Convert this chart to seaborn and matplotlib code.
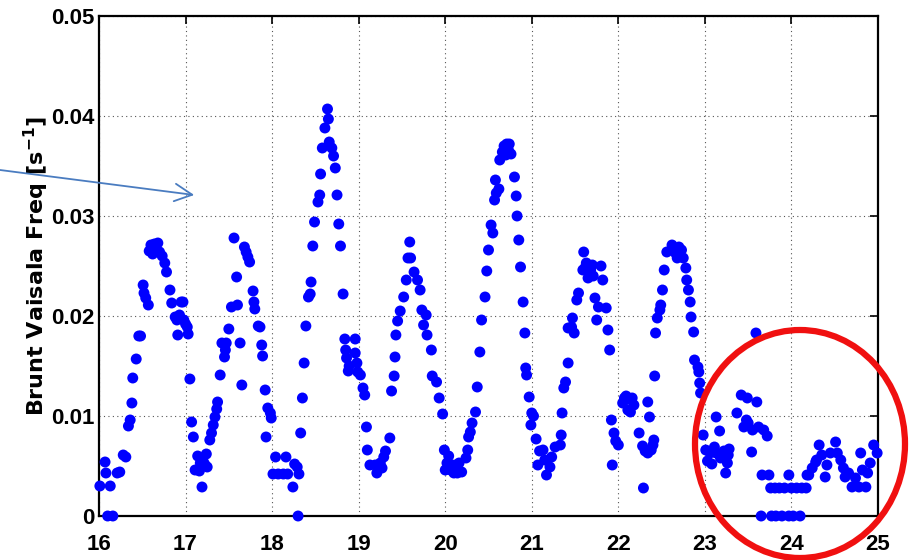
import numpy as np
import pandas as pd
import seaborn as sns
import matplotlib
matplotlib.use("Agg")
import matplotlib.pyplot as plt
from matplotlib.patches import Ellipse

day = [16.01,16.07,16.08,16.10,16.13,16.16,16.21,16.24,16.28,16.31,16.34,16.36,16.38,16.39,16.43,16.46,16.48,
       16.51,16.52,16.54,16.57,16.58,16.60,16.62,16.64,16.66,16.68,16.70,16.73,16.76,16.78,16.82,16.84,16.88,16.90,
       16.91,16.93,16.95,16.97,16.98,17.00,17.02,17.03,17.05,17.07,17.09,17.11,17.14,17.16,17.17,17.19,17.20,17.22,
       17.24,17.25,17.28,17.30,17.32,17.34,17.36,17.37,17.40,17.42,17.45,17.46,17.47,17.50,17.53,17.56,17.59,17.60,
       17.63,17.65,17.68,17.70,17.72,17.74,17.78,17.79,17.80,17.84,17.86,17.88,17.89,17.92,17.93,17.95,17.98,17.99,
       18.01,18.04,18.07,18.13,18.16,18.18,18.24,18.26,18.29,18.30,18.31,18.33,18.35,18.37,18.39,18.42,18.44,18.45,
       18.47,18.49,18.53,18.55,18.56,18.58,18.61,18.64,18.65,18.66,18.69,18.71,18.73,18.75,18.77,18.79,18.82,18.84,
       18.85,18.86,18.88,18.89,18.96,18.96,18.98,18.99,19.02,19.05,19.07,19.09,19.10,19.13,19.19,19.21,19.25,19.27,
       19.29,19.31,19.36,19.38,19.41,19.42,19.43,19.45,19.48,19.52,19.55,19.57,19.59,19.60,19.64,19.68,19.71,19.73,
       19.75,19.78,19.79,19.84,19.85,19.90,19.93,19.97,19.99,20.00,20.02,20.04,20.06,20.08,20.10,20.12,20.14,20.16,
       20.19,20.24,20.26,20.27,20.29,20.31,20.35,20.37,20.40,20.42,20.46,20.48,20.50,20.53,20.55,20.57,20.58,20.59,
       20.62,20.63,20.66,20.68,20.70,20.71,20.73,20.74,20.76,20.80,20.82,20.83,20.85,20.87,20.90,20.92,20.93,20.94,
       20.97,20.99,21.00,21.02,21.05,21.07,21.09,21.13,21.15,21.17,21.21,21.23,21.27,21.33,21.34,21.35,21.37,21.39,
       21.42,21.42,21.46,21.47,21.49,21.52,21.54,21.59,21.60,21.62,21.63,21.65,21.68,21.70,21.71,21.73,21.75,21.77,
       21.80,21.82,21.86,21.88,21.90,21.92,21.93,21.95,21.97,22.00,22.05,22.07,22.09,22.11,22.12,22.14,22.16,22.18,
       22.24,22.28,22.29,22.31,22.34,22.34,22.36,22.38,22.40,22.41,22.42,22.43,22.45,22.48,22.49,22.51,22.53,22.56,
       22.62,22.66,22.68,22.70,22.73,22.75,22.78,22.79,22.81,22.83,22.84,22.87,22.88,22.92,22.93,22.94,22.95,22.98,
       23.01,23.03,23.06,23.08,23.11,23.13,23.13,23.17,23.18,23.22,23.24,23.26,23.27,23.28,23.37,23.42,23.45,23.48,
       23.49,23.50,23.54,23.55,23.59,23.60,23.62,23.65,23.66,23.68,23.72,23.74,23.76,23.77,23.81,23.82,23.86,23.89,
       23.92,23.97,23.97,24.00,24.02,24.06,24.10,24.12,24.17,24.18,24.20,24.24,24.28,24.29,24.32,24.35,24.39,24.41,
       24.45,24.51,24.53,24.57,24.60,24.62,24.66,24.70,24.74,24.78,24.80,24.82,24.86,24.88,24.91,24.95,24.99]

bv_freq = [0.0030,0.0054,0.0043,0.0000,0.0030,0.0000,0.0043,0.0044,0.0061,0.0059,0.0090,0.0096,0.0113,0.0138,0.0157,0.0180,0.0180,
           0.0231,0.0223,0.0218,0.0211,0.0265,0.0271,0.0262,0.0272,0.0266,0.0273,0.0264,0.0260,0.0253,0.0244,0.0226,0.0213,0.0199,0.0196,
           0.0181,0.0201,0.0214,0.0214,0.0196,0.0192,0.0189,0.0182,0.0137,0.0094,0.0079,0.0046,0.0060,0.0045,0.0053,0.0029,0.0056,0.0052,
           0.0062,0.0049,0.0076,0.0083,0.0091,0.0099,0.0107,0.0114,0.0141,0.0173,0.0159,0.0166,0.0173,0.0187,0.0209,0.0278,0.0239,0.0211,
           0.0173,0.0131,0.0269,0.0264,0.0259,0.0254,0.0225,0.0214,0.0207,0.0190,0.0189,0.0171,0.0160,0.0126,0.0079,0.0108,0.0103,0.0098,
           0.0042,0.0059,0.0042,0.0042,0.0059,0.0042,0.0029,0.0052,0.0049,0.0000,0.0042,0.0083,0.0118,0.0153,0.0190,0.0219,0.0222,0.0234,
           0.0270,0.0294,0.0314,0.0321,0.0342,0.0368,0.0388,0.0407,0.0397,0.0374,0.0368,0.0360,0.0348,0.0321,0.0292,0.0270,0.0222,0.0177,
           0.0166,0.0158,0.0145,0.0150,0.0177,0.0163,0.0153,0.0144,0.0141,0.0128,0.0121,0.0089,0.0066,0.0051,0.0051,0.0043,0.0053,0.0048,
           0.0059,0.0065,0.0078,0.0125,0.0140,0.0159,0.0181,0.0195,0.0205,0.0219,0.0236,0.0258,0.0274,0.0258,0.0244,0.0236,0.0226,0.0206,
           0.0191,0.0201,0.0181,0.0166,0.0140,0.0134,0.0118,0.0102,0.0066,0.0046,0.0053,0.0060,0.0046,0.0051,0.0043,0.0051,0.0043,0.0053,
           0.0044,0.0058,0.0066,0.0079,0.0084,0.0093,0.0104,0.0129,0.0164,0.0196,0.0219,0.0245,0.0266,0.0291,0.0283,0.0316,0.0336,0.0323,
           0.0327,0.0356,0.0364,0.0370,0.0361,0.0372,0.0366,0.0372,0.0362,0.0339,0.0320,0.0300,0.0276,0.0249,0.0214,0.0183,0.0148,0.0141,
           0.0119,0.0091,0.0103,0.0100,0.0077,0.0051,0.0065,0.0066,0.0056,0.0041,0.0049,0.0059,0.0069,0.0071,0.0081,0.0103,0.0128,0.0134,
           0.0153,0.0188,0.0189,0.0198,0.0183,0.0216,0.0223,0.0246,0.0264,0.0249,0.0253,0.0238,0.0246,0.0251,0.0240,0.0218,0.0196,0.0209,
           0.0250,0.0236,0.0208,0.0186,0.0166,0.0096,0.0051,0.0083,0.0075,0.0071,0.0113,0.0118,0.0120,0.0106,0.0117,0.0104,0.0118,0.0111,
           0.0083,0.0070,0.0028,0.0065,0.0114,0.0063,0.0099,0.0066,0.0071,0.0076,0.0140,0.0183,0.0198,0.0206,0.0211,0.0226,0.0246,0.0264,
           0.0271,0.0263,0.0258,0.0269,0.0266,0.0258,0.0248,0.0236,0.0226,0.0214,0.0199,0.0184,0.0156,0.0149,0.0144,0.0133,0.0123,0.0081,
           0.0066,0.0055,0.0063,0.0052,0.0069,0.0099,0.0063,0.0085,0.0058,0.0065,0.0043,0.0053,0.0061,0.0067,0.0103,0.0121,0.0089,0.0096,
           0.0118,0.0093,0.0064,0.0086,0.0183,0.0114,0.0089,0.0000,0.0041,0.0086,0.0080,0.0041,0.0028,0.0000,0.0028,0.0000,0.0028,0.0000,
           0.0028,0.0041,0.0000,0.0028,0.0000,0.0028,0.0000,0.0028,0.0028,0.0041,0.0041,0.0048,0.0054,0.0056,0.0071,0.0061,0.0039,0.0051,
           0.0063,0.0074,0.0063,0.0056,0.0048,0.0039,0.0043,0.0029,0.0038,0.0029,0.0063,0.0046,0.0029,0.0043,0.0053,0.0071,0.0063]

x_ticks = [16, 17, 18, 19, 20, 21, 22, 23, 24, 25]
y_ticks = [0, 0.01, 0.02, 0.03, 0.04, 0.05]
y_tick_labels = ["0", "0.01", "0.02", "0.03", "0.04", "0.05"]
y_label = "Brunt Vaisala Freq [s$^{\\mathbf{-1}}$]"

sns.set_style("white")
plt.rcParams["font.family"] = ["Liberation Sans", "DejaVu Sans"]
plt.rcParams["mathtext.default"] = "bf"

fig = plt.figure(figsize=(9.09, 5.60), dpi=100)
W, H = 909, 560
ax = fig.add_axes([99 / W, 44 / H, 779 / W, 500 / H])

df = pd.DataFrame({"day": day, "n": bv_freq})
sns.scatterplot(data=df, x="day", y="n", ax=ax, color="#0000ff", s=62,
                edgecolor="none", linewidth=0, clip_on=False, zorder=3, legend=False)

ax.set_xlim(16, 25)
ax.set_ylim(0, 0.05)
ax.set_xticks(x_ticks)
ax.set_xticklabels([str(t) for t in x_ticks], fontsize=16, fontweight="bold")
ax.set_yticks(y_ticks)
ax.set_yticklabels(y_tick_labels, fontsize=16, fontweight="bold")
ax.set_xlabel("")
ax.set_ylabel(y_label, fontsize=16, fontweight="bold", family=["DejaVu Sans"], color="black")
ax.yaxis.set_label_coords(-0.062, 0.5)

ax.grid(True, color="#555555", linestyle=(0, (1, 3)), linewidth=0.8)
ax.set_axisbelow(True)
ax.tick_params(axis="both", direction="in", length=6, width=1.2, top=True, right=True,
               colors="black", labelcolor="black")
ax.tick_params(axis="x", pad=13)
ax.tick_params(axis="y", pad=3)
for sp in ax.spines.values():
    sp.set_visible(True)
    sp.set_color("black")
    sp.set_linewidth(1.6)

# annotation arrow from the left edge into the plot
ax.annotate("", xy=(17.10, 0.0321), xycoords="data",
            xytext=(0.0, 1 - 170 / H), textcoords="figure fraction",
            arrowprops=dict(arrowstyle="->,head_length=0.7,head_width=0.35",
                            color="#4a7cc0", lw=1.3, mutation_scale=18,
                            shrinkA=0, shrinkB=0),
            annotation_clip=False)

# red ellipse highlighting the last part
ell = Ellipse((800 / W, 1 - 444 / H), 210 / W, 228 / H, transform=fig.transFigure,
              fill=False, edgecolor="#f01010", linewidth=4.5, zorder=10)
fig.add_artist(ell)

fig.savefig("out.png", dpi=100)
